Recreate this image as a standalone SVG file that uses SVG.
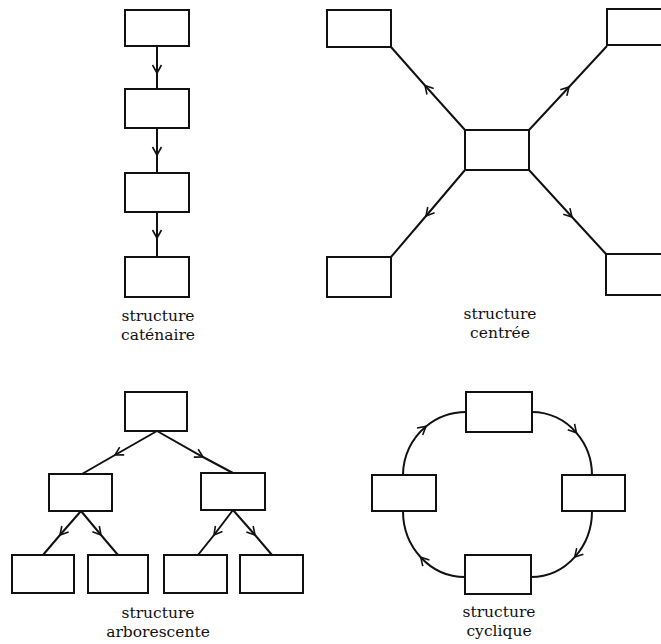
<svg xmlns="http://www.w3.org/2000/svg" width="661" height="644" viewBox="0 0 661 644">
<style>
.box{fill:none;stroke:#111;stroke-width:2}
.edge{fill:none;stroke:#111;stroke-width:2;marker-mid:url(#v)}
.lbl{font-family:"DejaVu Serif","Liberation Serif",serif;font-size:15.5px;fill:#111;text-anchor:middle}
</style>
<defs>
<marker id="v" viewBox="-10 -6 12 12" markerWidth="12" markerHeight="12" refX="0" refY="0" orient="auto" markerUnits="userSpaceOnUse" overflow="visible">
<path d="M-8,-4.5 L0,0 L-8,4.5" fill="none" stroke="#111" stroke-width="1.6"/>
</marker>
</defs>
<rect width="661" height="644" fill="#fff"/>

<!-- structure caténaire -->
<g id="cat1"><rect class="box" x="125" y="10" width="64" height="36"/></g>
<g id="cat2"><rect class="box" x="125" y="89" width="64" height="39"/></g>
<g id="cat3"><rect class="box" x="125" y="173" width="64" height="39"/></g>
<g id="cat4"><rect class="box" x="125" y="257" width="64" height="40"/></g>
<g id="cat-label"><text class="lbl" x="158" y="321">structure</text><text class="lbl" x="158" y="340">caténaire</text></g>

<!-- structure centrée -->
<g id="cen-center"><rect class="box" x="465" y="130" width="64" height="40"/></g>
<g id="cen-tl"><rect class="box" x="327" y="10" width="64" height="37"/></g>
<g id="cen-tr"><rect class="box" x="607" y="9" width="60" height="36"/></g>
<g id="cen-bl"><rect class="box" x="327" y="257" width="64" height="40"/></g>
<g id="cen-br"><rect class="box" x="606" y="254" width="60" height="41"/></g>
<g id="cen-label"><text class="lbl" x="500" y="319">structure</text><text class="lbl" x="500" y="338">centrée</text></g>

<!-- structure arborescente -->
<g id="tree-root"><rect class="box" x="125" y="392" width="62" height="39"/></g>
<g id="tree-l"><rect class="box" x="49" y="474" width="63" height="37"/></g>
<g id="tree-r"><rect class="box" x="201" y="473" width="64" height="37"/></g>
<g id="tree-a"><rect class="box" x="12" y="555" width="62" height="38"/></g>
<g id="tree-b"><rect class="box" x="88" y="555" width="60" height="38"/></g>
<g id="tree-c"><rect class="box" x="164" y="555" width="63" height="38"/></g>
<g id="tree-d"><rect class="box" x="240" y="555" width="63" height="38"/></g>
<g id="tree-label"><text class="lbl" x="158" y="618">structure</text><text class="lbl" x="158" y="637">arborescente</text></g>

<!-- structure cyclique -->
<g id="cyc-top"><rect class="box" x="466" y="392" width="66" height="40"/></g>
<g id="cyc-left"><rect class="box" x="372" y="475" width="64" height="36"/></g>
<g id="cyc-right"><rect class="box" x="562" y="475" width="63" height="36"/></g>
<g id="cyc-bottom"><rect class="box" x="465" y="555" width="66" height="39"/></g>
<g id="cyc-label"><text class="lbl" x="499" y="617">structure</text><text class="lbl" x="499" y="636">cyclique</text></g>

<g id="connectors">
<path class="edge" d="M157,46 L157,73 L157,89"/>
<path class="edge" d="M157,128 L157,155 L157,173"/>
<path class="edge" d="M157,212 L157,238 L157,257"/>

<path class="edge" d="M465,130 L425,85.5 L391,47"/>
<path class="edge" d="M529,130 L569,87 L607,46"/>
<path class="edge" d="M465,170 L426,216 L391,257"/>
<path class="edge" d="M529,170 L572,217 L606,254"/>

<path class="edge" d="M157,431 L115,455 L82,474"/>
<path class="edge" d="M157,431 L203,457 L233,473"/>
<path class="edge" d="M81,511 L60,535 L43,555"/>
<path class="edge" d="M81,511 L101,535 L118,555"/>
<path class="edge" d="M233,510 L214,535 L198,555"/>
<path class="edge" d="M233,510 L255,535 L272,555"/>

<path class="edge" d="M403,475 A63,63 0 0 1 426,426.4 A63,63 0 0 1 466,412"/>
<path class="edge" d="M532,412 A60,63 0 0 1 576.4,432.8 A60,63 0 0 1 592,475"/>
<path class="edge" d="M592,511 A61,66 0 0 1 574.7,557.1 A61,66 0 0 1 531,577"/>
<path class="edge" d="M465,577 A62,66 0 0 1 420.7,557.2 A62,66 0 0 1 403,511"/>
</g>
</svg>
